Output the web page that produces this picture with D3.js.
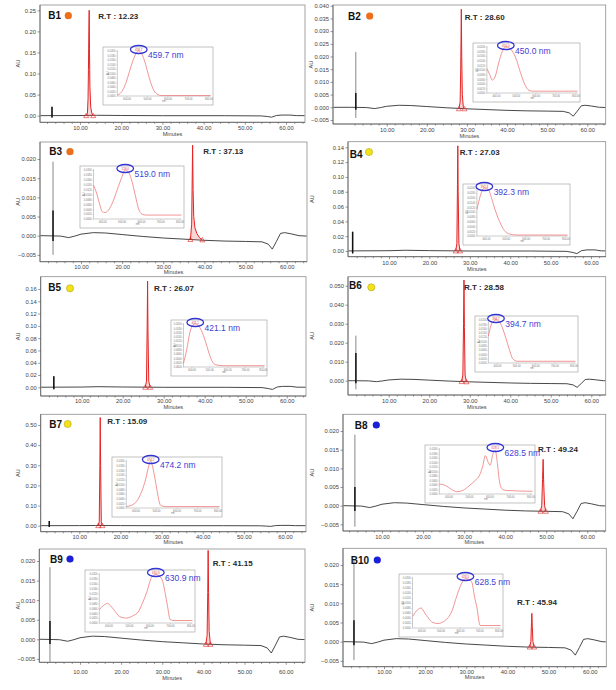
<!DOCTYPE html>
<html><head><meta charset="utf-8">
<script src="https://cdn.jsdelivr.net/npm/d3@7"></script>
<style>
body{margin:0;background:#fff}
svg{display:block}
text{font-family:"Liberation Sans",Arial,sans-serif}
</style>
</head><body>
<svg id="c" width="616" height="690"></svg>
<script>
// ---------------- DATA ----------------
const panelIds = ["B1","B2","B3","B4","B5","B6","B7","B8","B9","B10"];
const dotColors = ["#ec6f1c","#ec6f1c","#ec6f1c","#f3e21a","#f3e21a","#f3e21a","#f3e21a","#1c1fd8","#1c1fd8","#1c1fd8"];
const retentionTimes = [12.23,28.60,37.13,27.03,26.07,28.58,15.09,49.24,41.15,45.94];
const peakWavelengths = [459.7,450.0,519.0,392.3,421.1,394.7,474.2,628.5,630.9,628.5];
const xTickValues = [10,20,30,40,50,60];
const yTickValues = [
  [0,0.05,0.10,0.15,0.20,0.25],
  [-0.005,0,0.005,0.010,0.015,0.020,0.025,0.030,0.035,0.040],
  [-0.005,0,0.005,0.010,0.015,0.020],
  [0,0.02,0.04,0.06,0.08,0.10,0.12,0.14],
  [0,0.02,0.04,0.06,0.08,0.10,0.12,0.14,0.16],
  [0,0.010,0.020,0.030,0.040,0.050],
  [0,0.10,0.20,0.30,0.40,0.50],
  [-0.005,0,0.005,0.010,0.015,0.020],
  [-0.005,0,0.005,0.010,0.015,0.020],
  [-0.005,0,0.005,0.010,0.015,0.020]
];
const yTickFormats = [".2f",".3f",".3f",".2f",".2f",".3f",".2f",".3f",".3f",".3f"];
const baselineType = ["flat","low","low","flat","flat","low","flat","low","low","low"];

// baselines [minutes, AU]
const flatBase = [[-5,0],[10,0.0004],[14,0.001],[20,0.0005],[30,0],[45,0],[54,-0.0005],[55.5,-0.002],[56.5,-0.0035],[57.7,0.0005],[59,0.0015],[61,0.0015],[62.5,0.0002],[67,0]];
const lowBase = [[-5,0],[1,0],[5,-0.0001],[7,-0.0005],[8.5,-0.0001],[10,0.0004],[13,0.0008],[16,0.0007],[20,0.0003],[25,-0.0002],[30,-0.0006],[35,-0.0009],[40,-0.0012],[45,-0.0014],[50,-0.0015],[54,-0.0016],[55.5,-0.0022],[56.5,-0.0035],[57.5,-0.0015],[58.5,0.0006],[59.5,0.0008],[61,0.0005],[63,0.0],[67,-0.0002]];

// injection spikes [minutes, high, low, thickHigh, thickLow]
const injectionSpikes = [
  [3.2,0.021,-0.005,0.021,-0.004],
  [2.3,0.0218,-0.0042,0.0056,-0.001],
  [3.2,0.0193,-0.005,0.0066,-0.0014],
  [1.0,0.026,-0.004,0.026,-0.003],
  [3.2,0.018,-0.003,0.018,-0.003],
  [1.9,0.0237,-0.0045,0.0146,-0.0014],
  [2.7,0.023,-0.006,0.023,-0.006],
  [3.4,0.019,-0.0056,0.005,-0.0014],
  [2.7,0.0184,-0.0058,0.0047,-0.0012],
  [2.7,0.0213,-0.0048,0.0056,-0.0009]
];

// red peaks [minutes, AU]
const peakB1 = [[11.5,0],[11.8,0.005],[11.95,0.04],[12.05,0.11],[12.15,0.2],[12.23,0.25],[12.3,0.16],[12.4,0.07],[12.6,0.02],[12.9,0.005],[13.2,0]];
const peakB2 = [[28.0,-0.0006],[28.3,0.002],[28.45,0.015],[28.6,0.0386],[28.7,0.02],[28.85,0.005],[29.1,0.0],[29.4,-0.0006]];
const peakB3 = [[36.6,-0.001],[36.9,0.003],[37.0,0.012],[37.13,0.0236],[37.25,0.012],[37.4,0.005],[37.7,0.002],[38.2,0.0005],[38.8,-0.0005],[39.5,-0.0011]];
const peakB4 = [[26.5,0],[26.8,0.01],[26.95,0.09],[27.03,0.142],[27.12,0.08],[27.3,0.01],[27.6,0]];
const peakB5 = [[25.5,0],[25.8,0.01],[25.97,0.1],[26.07,0.173],[26.17,0.09],[26.35,0.01],[26.7,0]];
const peakB6 = [[28.0,-0.0005],[28.3,0.003],[28.47,0.03],[28.58,0.053],[28.68,0.028],[28.85,0.003],[29.2,-0.0006]];
const peakB7 = [[14.6,0],[14.85,0.02],[15.0,0.3],[15.09,0.537],[15.18,0.3],[15.35,0.02],[15.6,0]];
const peakB8 = [[48.6,-0.0015],[48.9,0.0],[49.1,0.007],[49.24,0.0124],[49.38,0.006],[49.6,0.0],[49.9,-0.0015]];
const peakB9 = [[40.6,-0.0013],[40.9,0.001],[41.05,0.012],[41.15,0.0227],[41.25,0.012],[41.4,0.002],[41.7,-0.0013]];
const peakB10 = [[45.4,-0.0014],[45.7,0.0],[45.85,0.005],[45.94,0.0074],[46.05,0.004],[46.2,0.0],[46.5,-0.0014]];
const peaks = [peakB1,peakB2,peakB3,peakB4,peakB5,peakB6,peakB7,peakB8,peakB9,peakB10];

// inset UV-Vis spectra [nm, relative absorbance]
const specB1 = [[355,0.02],[370,0.06],[385,0.16],[400,0.33],[415,0.55],[430,0.77],[445,0.93],[459.7,1.0],[475,0.93],[490,0.75],[505,0.5],[520,0.27],[535,0.11],[550,0.04],[570,0.01],[810,0.01]];
const specB2 = [[355,0.53],[369,0.4],[382,0.28],[396,0.35],[414,0.65],[432,0.9],[450,1.0],[469,0.97],[487,0.88],[505,0.7],[523,0.45],[542,0.22],[560,0.08],[583,0.04],[810,0.04]];
const specB3 = [[355,0.69],[369,0.55],[387,0.3],[400,0.15],[414,0.13],[432,0.18],[455,0.35],[478,0.6],[501,0.85],[519,1.0],[537,0.95],[555,0.75],[573,0.45],[587,0.22],[605,0.1],[628,0.08],[810,0.08]];
const specB4 = [[355,0.55],[373,0.85],[392.3,1.0],[410,0.98],[428,0.8],[446,0.55],[469,0.3],[492,0.12],[519,0.04],[560,0.02],[810,0.02]];
const specB5 = [[355,0.08],[373,0.4],[391,0.8],[408,0.97],[421.1,1.0],[437,0.97],[455,0.85],[478,0.6],[496,0.35],[514,0.15],[537,0.05],[582,0.03],[810,0.03]];
const specB6 = [[355,0.62],[369,0.88],[385,0.98],[394.7,1.0],[410,0.97],[428,0.82],[446,0.58],[464,0.32],[482,0.1],[505,0.04],[810,0.04]];
const specB7 = [[355,0.03],[382,0.06],[405,0.14],[430,0.35],[450,0.62],[465,0.9],[474.2,1.0],[485,0.85],[498,0.55],[510,0.25],[522,0.06],[545,0.03],[810,0.03]];
const specB8 = [[355,0.22],[385,0.19],[415,0.1],[440,0.05],[470,0.08],[500,0.18],[530,0.3],[552,0.42],[566,0.6],[580,0.85],[592,0.72],[604,0.64],[616,0.88],[628.5,0.97],[638,0.7],[648,0.3],[660,0.12],[680,0.08],[810,0.06]];
const specB9 = [[355,0.27],[376,0.36],[396,0.4],[410,0.35],[428,0.26],[455,0.13],[487,0.1],[520,0.15],[546,0.23],[565,0.4],[587,0.63],[610,0.93],[630.9,0.99],[660,0.9],[677,0.6],[687,0.37],[701,0.07],[720,0.05],[810,0.05]];
const specB10 = [[355,0.23],[380,0.36],[400,0.4],[418,0.3],[437,0.2],[460,0.11],[487,0.09],[520,0.14],[537,0.2],[560,0.35],[578,0.57],[610,0.9],[628.5,0.99],[660,0.93],[677,0.6],[687,0.43],[705,0.05],[725,0.05],[810,0.05]];
const spectra = [specB1,specB2,specB3,specB4,specB5,specB6,specB7,specB8,specB9,specB10];
const insetXTicks = [400,500,600,700,800];
const insetYTicks = [0,0.1,0.2,0.3,0.4,0.5,0.6,0.7,0.8,0.9,1.0];

// ---------------- LAYOUT (pixels) ----------------
const layout = [
 {L:40,T:5,R:305,B:122.3,x10:80,x60:286,y0:115.7,yv:0.25,yp:10.3,xl:127.7,ml:134,lab:[48.3,15.7],dot:[68.3,15.7],rt:[98.3,15.7],ins:[103,47,110,58],au:18},
 {L:333,T:5,R:605.7,B:124,x10:386.7,x60:587.3,y0:107.3,yv:0.04,yp:5.7,xl:130,ml:136,lab:[348,16],dot:[369.7,16],rt:[464.7,16.7],ins:[473,43,107,59],au:311},
 {L:40,T:142,R:307,B:261.7,x10:81,x60:286.7,y0:235.7,yv:0.02,yp:159,xl:266.7,ml:272,lab:[49.3,151.7],dot:[70,151.7],rt:[203.3,151],ins:[80,166,104,62],au:18},
 {L:348,T:141.7,R:605.7,B:256.7,x10:389,x60:591,y0:251,yv:0.14,yp:147.3,xl:262.7,ml:269,lab:[349.7,154],dot:[369,152],rt:[459.7,151.7],ins:[463,184,107,61],au:312},
 {L:40.7,T:276.7,R:306,B:396,x10:81.7,x60:286.7,y0:387.3,yv:0.16,yp:289,xl:401,ml:407,lab:[48.3,287.3],dot:[70,288.3],rt:[154,288.3],ins:[171,320,96,56],au:18},
 {L:348,T:276.7,R:605.7,B:395,x10:388.7,x60:591.3,y0:380.7,yv:0.05,yp:285.7,xl:400.7,ml:407,lab:[349,285.7],dot:[371.3,287.3],rt:[464,286.7],ins:[475,316,103,56],au:312},
 {L:40.7,T:414.3,R:306,B:531.7,x10:79.3,x60:285,y0:525.7,yv:0.5,yp:425,xl:536.7,ml:542,lab:[49.3,424.3],dot:[67.7,424],rt:[107.3,421],ins:[112,457,110,60],au:18},
 {L:343,T:414.3,R:605.7,B:531,x10:382,x60:587.3,y0:505.7,yv:0.02,yp:431,xl:536.7,ml:542,lab:[354.7,425.7],dot:[376.3,425],rt:[538,449.3],ins:[425,445,110,58],au:312},
 {L:39.3,T:549,R:305,B:662.3,x10:80,x60:285.7,y0:639.3,yv:0.02,yp:561,xl:671.7,ml:678.3,lab:[50,559],dot:[70,559],rt:[212.7,563.3],ins:[85,570,110,62],au:18},
 {L:343,T:548.3,R:606.3,B:666.7,x10:384,x60:589.7,y0:641.7,yv:0.02,yp:565,xl:671.7,ml:677.5,lab:[350.7,560],dot:[377.3,560],rt:[517,602.3],ins:[399,574,104,63],au:312}
];

// ---------------- DRAW ----------------
const svg = d3.select("#c");
const defs = svg.append("defs");
const FONT = "Liberation Sans, Arial, sans-serif";

function styleAxis(sel, fs){
  sel.attr("font-size", fs).attr("font-family", FONT);
  sel.selectAll(".domain").remove();
  sel.selectAll("line").attr("stroke","#555").attr("stroke-width",0.6);
  sel.selectAll("text").attr("fill","#444");
}

panelIds.forEach((id, i) => {
  const P = layout[i];
  const g = svg.append("g");
  const x = d3.scaleLinear().domain([10,60]).range([P.x10, P.x60]);
  const y = d3.scaleLinear().domain([0, P.yv]).range([P.y0, P.yp]);

  // frame
  g.append("rect").attr("x",P.L).attr("y",P.T).attr("width",P.R-P.L).attr("height",P.B-P.T)
    .attr("fill","none").attr("stroke","#8d8d8d").attr("stroke-width",0.8);

  // y axis
  const ya = g.append("g").attr("transform",`translate(${P.L},0)`)
    .call(d3.axisLeft(y).tickValues(yTickValues[i]).tickFormat(d3.format(yTickFormats[i])).tickSize(2.5).tickPadding(1.5));
  styleAxis(ya, 5.8);
  g.append("line").attr("x1",P.L).attr("x2",P.L).attr("y1",P.T).attr("y2",P.B).attr("stroke","#555").attr("stroke-width",0.7);

  // x axis (major + minor)
  const xa = g.append("g").attr("transform",`translate(0,${P.B})`)
    .call(d3.axisBottom(x).tickValues(xTickValues).tickFormat(d3.format(".2f")).tickSize(2.5));
  styleAxis(xa, 5.8);
  xa.selectAll("text").attr("y", P.xl - P.B).attr("dy","0.35em");
  const minor = d3.range(2, 65, 2).filter(v => v % 10 !== 0 && x(v) > P.L + 1 && x(v) < P.R - 1);
  const xm = g.append("g").attr("transform",`translate(0,${P.B})`)
    .call(d3.axisBottom(x).tickValues(minor).tickFormat("").tickSize(1.6));
  styleAxis(xm, 5.8);
  g.append("line").attr("x1",P.L).attr("x2",P.R).attr("y1",P.B).attr("y2",P.B).attr("stroke","#555").attr("stroke-width",0.7);

  g.append("text").attr("x",(P.L+P.R)/2).attr("y",P.ml).attr("dy","0.35em").attr("text-anchor","middle")
    .attr("font-size",5.6).attr("fill","#444").text("Minutes");
  g.append("text").attr("transform",`translate(${P.au},${(P.T+P.B)/2}) rotate(-90)`).attr("text-anchor","middle")
    .attr("dy","0.35em").attr("font-size",5.6).attr("fill","#444").text("AU");

  // clip
  const cid = "clip"+i;
  defs.append("clipPath").attr("id",cid).append("rect")
    .attr("x",P.L+0.5).attr("y",P.T-8).attr("width",P.R-P.L-1).attr("height",P.B-P.T+7.5);
  const pg = g.append("g").attr("clip-path",`url(#${cid})`);
  const line = d3.line().x(d => x(d[0])).y(d => y(d[1]));

  const base = baselineType[i] === "flat" ? flatBase : lowBase;
  pg.append("path").datum(base).attr("d",line).attr("fill","none").attr("stroke","#333").attr("stroke-width",0.9);

  const s = injectionSpikes[i];
  pg.append("line").attr("x1",x(s[0])).attr("x2",x(s[0])).attr("y1",y(s[1])).attr("y2",y(s[2]))
    .attr("stroke","#555").attr("stroke-width",0.7);
  pg.append("line").attr("x1",x(s[0])).attr("x2",x(s[0])).attr("y1",y(s[3])).attr("y2",y(s[4]))
    .attr("stroke","#111").attr("stroke-width",1.5);

  const pk = peaks[i];
  pg.append("path").datum(pk).attr("d",line).attr("fill","rgba(235,60,60,0.22)")
    .attr("stroke","#e52424").attr("stroke-width",1);
  const tri = d3.symbol(d3.symbolTriangle).size(11);
  [pk[0], pk[pk.length-1]].forEach(d => {
    g.append("path").attr("d",tri()).attr("transform",`translate(${x(d[0])},${y(d[1])+0.5})`)
      .attr("fill","none").attr("stroke","#e52424").attr("stroke-width",0.6);
  });

  // labels
  g.append("text").attr("x",P.lab[0]).attr("y",P.lab[1]).attr("dy","0.35em")
    .attr("font-size",10).attr("font-weight","bold").attr("fill","#111").text(id);
  g.append("circle").attr("cx",P.dot[0]).attr("cy",P.dot[1]).attr("r",3.6)
    .attr("fill",dotColors[i]).attr("stroke", i>=3 && i<=6 ? "#a89a10" : "none").attr("stroke-width",0.5);
  g.append("text").attr("x",P.rt[0]).attr("y",P.rt[1]).attr("dy","0.35em")
    .attr("font-size",8).attr("font-weight","bold").attr("fill","#2a2a2a")
    .text("R.T : " + d3.format(".2f")(retentionTimes[i]));

  // inset spectrum
  const [ix,iy,iw,ih] = P.ins;
  const ig = g.append("g");
  ig.append("rect").attr("x",ix).attr("y",iy).attr("width",iw).attr("height",ih)
    .attr("fill","#fff").attr("stroke","#9a9a9a").attr("stroke-width",0.6);
  const sx = d3.scaleLinear().domain([355,810]).range([ix+0.13*iw, ix+iw-2.5]);
  const sy = d3.scaleLinear().domain([0,1.02]).range([iy+ih-9, iy+3]);
  const iya = ig.append("g").attr("transform",`translate(${sx(355)},0)`)
    .call(d3.axisLeft(sy).tickValues(insetYTicks).tickFormat(v => d3.format(".4f")(v*0.02)).tickSize(1).tickPadding(0.8));
  styleAxis(iya, 2.6);
  iya.selectAll("line").attr("stroke","#aaa").attr("stroke-width",0.4);
  iya.selectAll("text").attr("fill","#777");
  const ixa = ig.append("g").attr("transform",`translate(0,${sy(0)})`)
    .call(d3.axisBottom(sx).tickValues(insetXTicks).tickFormat(d3.format(".2f")).tickSize(1).tickPadding(0.8));
  styleAxis(ixa, 2.6);
  ixa.selectAll("line").attr("stroke","#aaa").attr("stroke-width",0.4);
  ixa.selectAll("text").attr("fill","#777");
  ig.append("path").attr("d",`M${sx(355)},${sy(1.02)}V${sy(0)}H${sx(810)}`).attr("fill","none").attr("stroke","#999").attr("stroke-width",0.5);
  ig.append("text").attr("x",(sx(355)+sx(810))/2).attr("y",sy(0)+6).attr("text-anchor","middle").attr("font-size",2.6).attr("fill","#777").text("nm");
  ig.append("text").attr("transform",`translate(${ix+0.05*iw},${(sy(0)+sy(1))/2}) rotate(-90)`).attr("text-anchor","middle").attr("font-size",2.6).attr("fill","#777").text("AU");

  const sline = d3.line().x(d => sx(d[0])).y(d => sy(d[1])).curve(d3.curveMonotoneX);
  ig.append("path").datum(spectra[i]).attr("d",sline).attr("fill","none").attr("stroke","#ef7a7a").attr("stroke-width",0.8);

  const cx = sx(peakWavelengths[i]), cy = iy + 2.5;
  ig.append("text").attr("x",cx).attr("y",cy).attr("dy","0.35em").attr("text-anchor","middle")
    .attr("font-size",3).attr("fill","#e04040").text(d3.format(".1f")(peakWavelengths[i]));
  ig.append("ellipse").attr("cx",cx).attr("cy",cy).attr("rx",8.3).attr("ry",4)
    .attr("fill","none").attr("stroke","#3434d2").attr("stroke-width",1.3);
  ig.append("text").attr("x",cx+9.3).attr("y",cy+6).attr("dy","0.35em")
    .attr("font-size",8.5).attr("fill","#4242d4").text(d3.format(".1f")(peakWavelengths[i]) + " nm");
});
</script>
</body></html>
